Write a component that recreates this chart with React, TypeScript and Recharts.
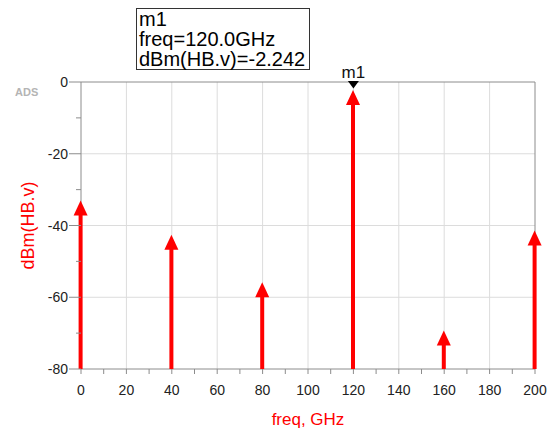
import {
    Bar,
    CartesianGrid,
    ComposedChart,
    ReferenceDot,
    XAxis,
    YAxis,
} from "recharts";

// harmonic balance spectrum, one stem per tone
const freqs = [0, 40, 80, 120, 160, 200];
const levels = [-33, -42.6, -55.8, -2.242, -69.3, -41.4];

const xTicks = [0, 10, 20, 30, 40, 50, 60, 70, 80, 90, 100, 110, 120, 130, 140, 150, 160, 170, 180, 190, 200];
const yTicks = [0, -10, -20, -30, -40, -50, -60, -70, -80];
const gridX = [20, 40, 60, 80, 100, 120, 140, 160, 180];
const gridY = [-20, -40, -60];
const frameX = [0, 200];
const frameY = [0, -80];

const markerName = "m1";
const markerFreq = 120;
const markerValue = -2.242;

const FONT = '"Liberation Sans", Arial, sans-serif';
const RED = "#ff0000";
const AXIS = "#8c8c8c";
const GRID = "#dcdcdc";

const data = freqs.map((freq, i) => ({ freq, span: [-80, levels[i]] }));

function Stem(props: any) {
    const { x, y, width, height } = props;
    const cx = x + width / 2;
    const top = Math.min(y, y + height);
    const bottom = Math.max(y, y + height);
    return (
        <g>
            <line x1={cx} y1={bottom} x2={cx} y2={top + 12} stroke={RED} strokeWidth={4} />
            <polygon points={`${cx},${top} ${cx - 7},${top + 15} ${cx + 7},${top + 15}`} fill={RED} />
        </g>
    );
}

function MarkerShape(props: any) {
    const { cx, cy } = props;
    return (
        <g>
            <polygon points={`${cx - 5.5},${cy - 9} ${cx + 5.5},${cy - 9} ${cx},${cy - 1.5}`} fill="#000" />
            <text x={cx} y={cy - 12} textAnchor="middle" fontSize={17} fontFamily={FONT} fill="#111">
                {markerName}
            </text>
        </g>
    );
}

function XTick(props: any) {
    const { x, y, payload } = props;
    const major = payload.value % 20 === 0;
    return (
        <g>
            <line x1={x} y1={y} x2={x} y2={y + 5} stroke={AXIS} />
            {major && (
                <text x={x} y={y + 26} textAnchor="middle" fontSize={14} fontFamily={FONT} fill="#222">
                    {payload.value}
                </text>
            )}
        </g>
    );
}

function YTick(props: any) {
    const { x, y, payload } = props;
    const major = payload.value % 20 === 0;
    return (
        <g>
            <line x1={x - (major ? 12 : 5)} y1={y} x2={x} y2={y} stroke={AXIS} />
            {major && (
                <text x={x - 13} y={y + 5} textAnchor="end" fontSize={14} fontFamily={FONT} fill="#222">
                    {payload.value}
                </text>
            )}
        </g>
    );
}

export default function App() {
    return (
        <div style={{ position: "absolute", left: 0, top: 0, width: 547, height: 432, background: "#fff" }}>
            <ComposedChart
                width={547}
                height={432}
                data={data}
                margin={{ top: 82, right: 12, bottom: 0, left: 0 }}
            >
                <CartesianGrid stroke={GRID} verticalValues={gridX} horizontalValues={gridY} />
                <CartesianGrid stroke={AXIS} verticalValues={frameX} horizontalValues={frameY} />
                <XAxis
                    dataKey="freq"
                    type="number"
                    domain={[0, 200]}
                    ticks={xTicks}
                    interval={0}
                    height={63}
                    tickSize={0}
                    tickMargin={0}
                    tickLine={false}
                    axisLine={false}
                    tick={<XTick />}
                    label={{
                        content: ({ viewBox }: any) => (
                            <text
                                x={viewBox.x + viewBox.width / 2}
                                y={viewBox.y + 56}
                                textAnchor="middle"
                                fontSize={17}
                                fontFamily={FONT}
                                fill={RED}
                            >
                                freq, GHz
                            </text>
                        ),
                    }}
                />
                <YAxis
                    type="number"
                    domain={[-80, 0]}
                    ticks={yTicks}
                    interval={0}
                    width={81}
                    tickSize={0}
                    tickMargin={0}
                    tickLine={false}
                    axisLine={false}
                    tick={<YTick />}
                    label={{
                        content: ({ viewBox }: any) => {
                            const lx = viewBox.x + 28;
                            const ly = viewBox.y + viewBox.height / 2;
                            return (
                                <text
                                    x={lx}
                                    y={ly}
                                    transform={`rotate(-90 ${lx} ${ly})`}
                                    textAnchor="middle"
                                    dominantBaseline="central"
                                    fontSize={18}
                                    fontFamily={FONT}
                                    fill={RED}
                                >
                                    dBm(HB.v)
                                </text>
                            );
                        },
                    }}
                />
                <Bar dataKey="span" barSize={14} shape={Stem} isAnimationActive={false} />
                <ReferenceDot
                    x={markerFreq}
                    y={markerValue}
                    ifOverflow="visible"
                    shape={MarkerShape}
                />
            </ComposedChart>
            <div
                style={{
                    position: "absolute",
                    left: 15,
                    top: 86,
                    fontFamily: FONT,
                    fontSize: 11,
                    fontWeight: "bold",
                    color: "#b4b4b4",
                }}
            >
                ADS
            </div>
            <div
                style={{
                    position: "absolute",
                    left: 136,
                    top: 8,
                    width: 170,
                    height: 60,
                    border: "1px solid #333",
                    fontFamily: FONT,
                    fontSize: 20,
                    lineHeight: "20px",
                    color: "#000",
                    paddingLeft: 2,
                    boxSizing: "content-box",
                    whiteSpace: "nowrap",
                }}
            >
                <div>{markerName}</div>
                <div>freq={markerFreq.toFixed(1)}GHz</div>
                <div>dBm(HB.v)={markerValue}</div>
            </div>
        </div>
    );
}
